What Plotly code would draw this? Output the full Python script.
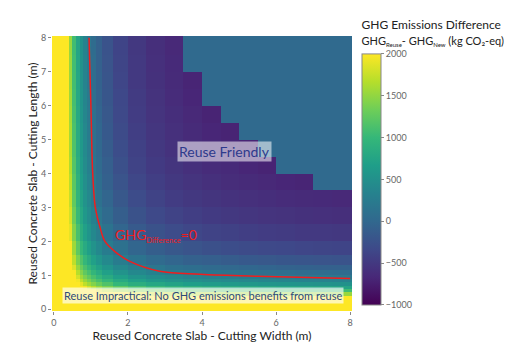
import plotly.graph_objects as go

# Cell edges (m) for cutting width (x) and cutting length (y)
x_edges = [-0.05, 0.4, 0.5, 0.6, 0.7, 0.8, 0.9, 1.0, 1.15, 1.3, 1.6, 2.0, 2.5, 3.0,
           3.5, 4.0, 4.5, 5.0, 5.5, 6.0, 6.5, 7.0, 7.5, 8.05]
y_edges = [-0.05, 0.4, 0.5, 0.6, 0.7, 0.8, 0.9, 1.0, 1.15, 1.3, 1.6, 2.0, 2.5, 3.0,
           3.5, 4.0, 4.5, 5.0, 5.5, 6.0, 6.5, 7.0, 7.5, 8.05]

# GHG difference (kg CO2-eq), rows = length cells (bottom to top), cols = width cells
ghg_diff = [
    [2000]*23,
    [2000, 2000, 2000, 2000, 2000, 2000, 2000, 2000, 2000, 2000, 2000, 1890, 1800, 1740, 1690, 1650, 1620, 1600, 1580, 1570, 1550, 1540, 1530],
    [2000, 2000, 2000, 2000, 2000, 2000, 2000, 1990, 1850, 1710, 1560, 1430, 1340, 1270, 1230, 1190, 1160, 1140, 1120, 1100, 1090, 1080, 1070],
    [2000, 2000, 2000, 2000, 2000, 1950, 1810, 1670, 1530, 1390, 1240, 1110, 1020, 950, 910, 870, 840, 820, 800, 780, 770, 760, 750],
    [2000, 2000, 2000, 2000, 1890, 1710, 1570, 1430, 1300, 1160, 1000, 870, 780, 720, 670, 630, 610, 580, 560, 550, 530, 520, 510],
    [2000, 2000, 2000, 1950, 1710, 1530, 1390, 1250, 1120, 980, 820, 690, 600, 540, 490, 450, 430, 400, 380, 370, 350, 340, 330],
    [2000, 2000, 2000, 1810, 1570, 1390, 1250, 1110, 980, 830, 680, 550, 460, 400, 350, 310, 280, 260, 240, 230, 210, 200, 190],
    [2000, 2000, 1990, 1670, 1430, 1250, 1110, 970, 840, 690, 540, 410, 320, 260, 210, 170, 140, 120, 100, 90, 70, 60, 50],
    [2000, 2000, 1850, 1530, 1300, 1120, 980, 840, 710, 560, 410, 280, 190, 120, 80, 40, 10, -10, -30, -50, -60, -70, -80],
    [2000, 2000, 1710, 1390, 1160, 980, 830, 690, 560, 420, 260, 140, 40, -20, -70, -100, -130, -160, -170, -190, -200, -220, -230],
    [2000, 2000, 1560, 1240, 1000, 820, 680, 540, 410, 260, 110, -20, -110, -170, -220, -260, -290, -310, -330, -340, -360, -370, -380],
    [2000, 1890, 1430, 1110, 870, 690, 550, 410, 280, 140, -20, -150, -240, -300, -350, -390, -410, -440, -460, -470, -490, -500, -510],
    [2000, 1800, 1340, 1020, 780, 600, 460, 320, 190, 40, -110, -240, -330, -390, -440, -480, -510, -530, -550, -560, -580, -590, -600],
    [2000, 1740, 1270, 950, 720, 540, 400, 260, 120, -20, -170, -300, -390, -460, -510, -540, -570, -590, -610, -630, -640, -650, -660],
    [2000, 1690, 1230, 910, 670, 490, 350, 210, 80, -70, -220, -350, -440, -510, -550, -590, -620, -640, -660, -680, -690, 30, 30],
    [2000, 1650, 1190, 870, 630, 450, 310, 170, 40, -100, -260, -390, -480, -540, -590, -630, -650, -680, -700, 30, 30, 30, 30],
    [2000, 1620, 1160, 840, 610, 430, 280, 140, 10, -130, -290, -410, -510, -570, -620, -650, -680, -700, 30, 30, 30, 30, 30],
    [2000, 1600, 1140, 820, 580, 400, 260, 120, -10, -160, -310, -440, -530, -590, -640, -680, -700, 30, 30, 30, 30, 30, 30],
    [2000, 1580, 1120, 800, 560, 380, 240, 100, -30, -170, -330, -460, -550, -610, -660, -700, 30, 30, 30, 30, 30, 30, 30],
    [2000, 1570, 1100, 780, 550, 370, 230, 90, -50, -190, -340, -470, -560, -630, -680, 30, 30, 30, 30, 30, 30, 30, 30],
    [2000, 1550, 1090, 770, 530, 350, 210, 70, -60, -200, -360, -490, -580, -640, -690, 30, 30, 30, 30, 30, 30, 30, 30],
    [2000, 1540, 1080, 760, 520, 340, 200, 60, -70, -220, -370, -500, -590, -650, 30, 30, 30, 30, 30, 30, 30, 30, 30],
    [2000, 1530, 1070, 750, 510, 330, 190, 50, -80, -230, -380, -510, -600, -660, 30, 30, 30, 30, 30, 30, 30, 30, 30],
]

# Break-even (GHG difference = 0) curve
zero_x = [0.95, 1.0, 1.05, 1.12, 1.25, 1.38, 1.65, 2.05, 2.86, 3.95, 5.5, 8.0]
zero_y = [8.0, 6.0, 4.0, 3.0, 2.4, 2.0, 1.7, 1.41, 1.12, 1.03, 0.97, 0.91]

colorbar_ticks = [-1000, -500, 0, 500, 1000, 1500, 2000]
x_ticks = [0, 2, 4, 6, 8]
y_ticks = [0, 1, 2, 3, 4, 5, 6, 7, 8]

FONT = "Lato"
SUB = "<sub><span style='font-size:6px'>{}</span></sub>"

cb_title = ("GHG Emissions Difference<br><span style='font-size:11px'>GHG" + SUB.format("Reuse")
            + "- GHG" + SUB.format("New") + " (kg CO₂-eq)</span>")

fig = go.Figure()
fig.add_trace(go.Heatmap(
    x=x_edges, y=y_edges, z=ghg_diff,
    colorscale="Viridis", zmin=-1000, zmax=2000,
    colorbar=dict(
        title=dict(text=cb_title, side="top", font=dict(family=FONT, size=12, color="#222")),
        tickvals=colorbar_ticks,
        ticktext=[str(v).replace("-", "\u2212") for v in colorbar_ticks],
        ticks="outside", ticklen=3, tickcolor="#888",
        tickfont=dict(family=FONT, size=9, color="#666"),
        thickness=19, len=1.045, lenmode="fraction",
        x=1.02, xanchor="left", xpad=4,
        y=0.022, yanchor="bottom", ypad=0,
        outlinewidth=1, outlinecolor="#888",
    ),
    hoverinfo="skip",
))
fig.add_trace(go.Scatter(
    x=zero_x, y=zero_y, mode="lines",
    line=dict(color="#f01e1e", width=1.5, shape="spline"),
    showlegend=False, hoverinfo="skip",
))

fig.add_annotation(x=4.62, y=4.65, xref="x", yref="y", text="Reuse Friendly",
                   showarrow=False, font=dict(family=FONT, size=14, color="#2e3a8c"),
                   bgcolor="rgba(255,255,255,0.55)", borderpad=1)
fig.add_annotation(x=1.6, y=2.18, xref="x", yref="y", xanchor="left",
                   text="GHG<sub><span style='font-size:7.5px'>Difference</span></sub>=0",
                   showarrow=False, font=dict(family=FONT, size=14, color="#f01e1e"))
fig.add_annotation(x=4.03, y=0.41, xref="x", yref="y",
                   text="Reuse Impractical: No GHG emissions benefits from reuse",
                   showarrow=False, font=dict(family=FONT, size=11, color="#2e4a7a"),
                   bgcolor="rgba(255,255,255,0.65)", borderpad=1)

fig.update_layout(
    width=512, height=356,
    margin=dict(l=44, r=168, t=28, b=53, autoexpand=False),
    paper_bgcolor="white", plot_bgcolor="white",
    showlegend=False,
    font=dict(family=FONT),
    xaxis=dict(range=[-0.05, 8.05], tickvals=x_ticks, ticks="outside", ticklen=3,
               tickcolor="#888", tickfont=dict(size=9, color="#666"),
               showgrid=False, zeroline=False,
               title=dict(text="Reused Concrete Slab - Cutting Width (m)",
                          font=dict(size=12, color="#222"), standoff=4)),
    yaxis=dict(range=[-0.05, 8.05], tickvals=y_ticks, ticks="outside", ticklen=3,
               tickcolor="#888", tickfont=dict(size=9, color="#666"),
               showgrid=False, zeroline=False,
               title=dict(text="Reused Concrete Slab - Cutting Length (m)",
                          font=dict(size=12, color="#222"), standoff=0)),
)

fig.write_html("out.html")
